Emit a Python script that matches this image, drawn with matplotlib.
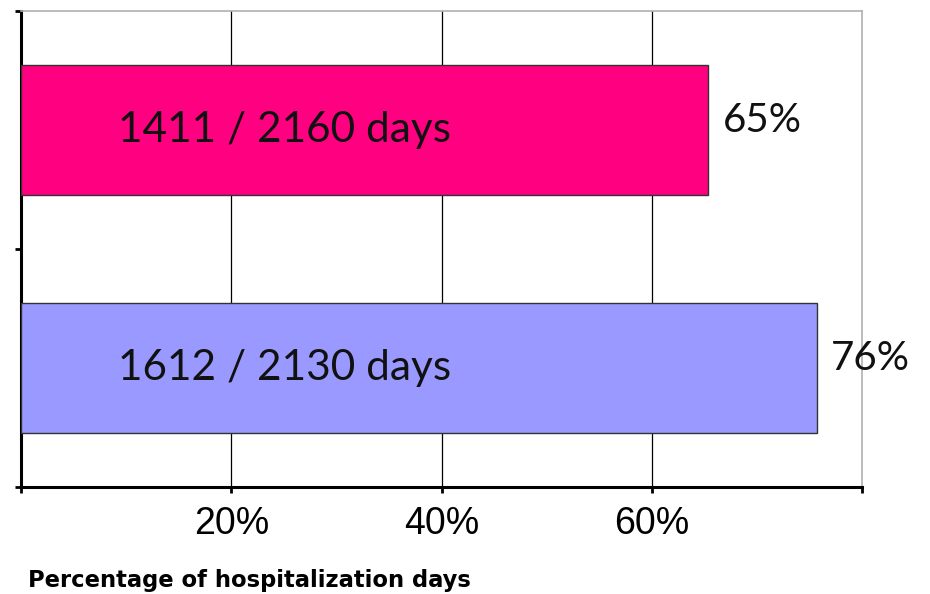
import numpy as np
import matplotlib
matplotlib.use('Agg')
import matplotlib.pyplot as plt

# hospitalization days per group (bottom bar first)
days = [1612, 1411]
total_days = [2130, 2160]
bar_colors = ['#9999FF', '#FF0080']

x_ticks = [20, 40, 60]
x_tick_labels = ['20%', '40%', '60%']
x_label = 'Percentage of hospitalization days'

pct = [d / t * 100 for d, t in zip(days, total_days)]
ypos = np.arange(len(days))

fig = plt.figure(figsize=(9.3, 5.94), dpi=100)
ax = fig.add_axes([0.0226, 0.1801, 0.9043, 0.8014])

ax.barh(ypos, pct, height=0.55, color=bar_colors,
        edgecolor='#333333', linewidth=1.0, zorder=3)

for y, p, d, t in zip(ypos, pct, days, total_days):
    ax.text(9.2, y, f'{d} / {t} days', fontsize=30.5, family='Lato',
            ha='left', va='center', color='#111111', zorder=4)
    ax.text(p + 1.4, y + 0.04, f'{p:.0f}%', fontsize=29, family='Lato',
            ha='left', va='center', color='#111111', zorder=4)

ax.set_xlim(0, 80)
ax.set_ylim(-0.5, 1.5)

ax.set_xticks([0, 20, 40, 60, 80])
ax.set_xticklabels([''] + x_tick_labels + [''],
                   fontsize=27, family='Liberation Sans')
ax.set_yticks([-0.5, 0.5, 1.5])
ax.set_yticklabels([])
ax.tick_params(axis='x', direction='out', length=4, width=2, pad=10)
ax.tick_params(axis='y', direction='out', length=4, width=2)

for gx in x_ticks:
    ax.axvline(gx, color='black', linewidth=0.9, zorder=1)

ax.spines['left'].set_linewidth(2.2)
ax.spines['bottom'].set_linewidth(2.2)
ax.spines['top'].set_color('#b0b0b0')
ax.spines['right'].set_color('#b0b0b0')
ax.spines['top'].set_linewidth(1.2)
ax.spines['right'].set_linewidth(1.2)

fig.text(0.030, 0.012, x_label, fontsize=16.3, family='DejaVu Sans',
         fontweight='bold', ha='left', va='baseline')

fig.savefig('out.png', dpi=100)
